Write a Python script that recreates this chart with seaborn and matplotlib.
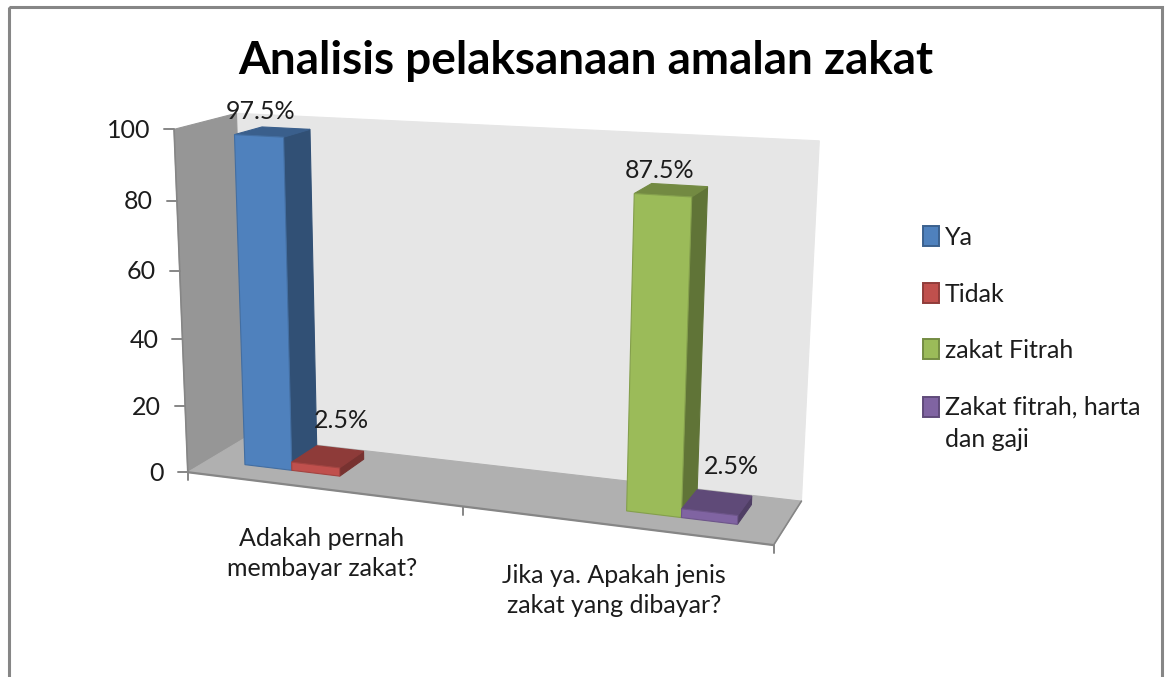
import numpy as np
import pandas as pd
import seaborn as sns
import matplotlib.pyplot as plt
import matplotlib.transforms as mtransforms
from matplotlib.colors import to_rgb
from matplotlib.patches import Polygon, Rectangle

# chart data
questions = ['Adakah pernah\nmembayar zakat?', 'Jika ya. Apakah jenis\nzakat yang dibayar?']
answers = ['Ya', 'Tidak', 'zakat Fitrah', 'Zakat fitrah, harta\ndan gaji']
answer_question = [0, 0, 1, 1]
percent = [97.5, 2.5, 87.5, 2.5]
colors = ['#4f81bd', '#c0504d', '#9bbb59', '#8064a2']
y_ticks = [0, 20, 40, 60, 80, 100]

# camera calibration: (category pos, depth, value) -> picture pixel
calib_3d = [(0, 0, 0), (0, 1, 0), (2, 1, 0), (2, 0, 0), (0, 0, 100), (0, 1, 100), (2, 1, 100),
            (1, 0, 0), (0, 0, 80), (0, 0, 60), (0, 0, 40), (0, 0, 20)]
calib_px = [(190, 470), (243, 440), (802, 498), (773, 548), (172, 130), (240, 113), (819, 141),
            (464, 507), (175, 200), (179, 271), (183, 339), (187, 405)]

rows = []
for (u, d, v), (px, py) in zip(calib_3d, calib_px):
    X = [u, d, v / 100, 1]
    rows.append(X + [0, 0, 0, 0] + [-px / 1000 * c for c in X])
    rows.append([0, 0, 0, 0] + X + [-py / 1000 * c for c in X])
cam = np.linalg.svd(np.array(rows))[2][-1].reshape(3, 4)


def project(u, d, v):
    u, d, v = np.broadcast_arrays(u, d, v)
    X = np.stack([u, d, v / 100, np.ones_like(u, dtype=float)], axis=-1)
    p = X @ cam.T
    return p[..., :2] / p[..., 2:] * 1000


class BarFace(mtransforms.Transform):
    # puts a seaborn bar (category x, value) on the front plane of the 3D box
    input_dims = 2
    output_dims = 2

    def __init__(self, bar_depth):
        super().__init__()
        self.bar_depth = bar_depth

    def transform_non_affine(self, values):
        values = np.asarray(values, dtype=float)
        return project(values[:, 0] + 0.5, self.bar_depth, values[:, 1])


sns.set_theme(style='white')
plt.rcParams['font.family'] = ['Lato', 'DejaVu Sans']
text_col = '#1c1c1c'
line_col = '#868686'

df = pd.DataFrame({'question': [questions[i] for i in answer_question],
                   'answer': answers,
                   'percent': percent})

fig = plt.figure(figsize=(11.65, 6.77), dpi=100, facecolor='white')
ax = fig.add_axes([0, 0, 1, 1])
sns.barplot(data=df, x='question', y='percent', hue='answer', order=questions, hue_order=answers,
            palette=colors, saturation=1, width=0.714, ax=ax)
# seaborn leaves empty bars for the answers a question does not have
for b in list(ax.patches):
    if not b.get_height() > 0:
        b.remove()
bars = sorted(ax.patches, key=lambda b: b.get_x())
ax.set_xlim(0, 1165)
ax.set_ylim(677, 0)
ax.set_axis_off()

ax.add_patch(Rectangle((9, 7), 1153, 720, fill=False, edgecolor=line_col, lw=2.2, zorder=20))


def face(points, color, z, edge=None, lw=0.8):
    ax.add_patch(Polygon(points, closed=True, facecolor=color, edgecolor=edge if edge is not None else color, lw=lw, zorder=z))


# walls and floor
face(project([0, 2, 2, 0], 1, [0, 0, 100, 100]), '#e6e6e6', 1)
face(project(0, [0, 1, 1, 0], [0, 0, 100, 100]), '#969696', 1.1)
face(project([0, 2, 2, 0], [0, 0, 1, 1], 0), '#b0b0b0', 1.2)
ax.plot(*project([0, 2], 0, 0).T, color=line_col, lw=1.6, zorder=1.3)
ax.plot(*project(0, 0, [0, 100]).T, color=line_col, lw=1.2, zorder=1.3)
ax.plot(*project(2, [0, 1], 0).T, color=line_col, lw=1.2, zorder=1.3)

# ticks
for v in y_ticks:
    x0, y0 = project(0, 0, v)
    ax.plot([x0 - 10, x0], [y0, y0], color=line_col, lw=1.4, zorder=1.3)
    ax.text(x0 - 24, y0 + 1, str(v), ha='right', va='center', fontsize=18, color=text_col)
for u in [0, 1, 2]:
    x0, y0 = project(u, 0, 0)
    ax.plot([x0, x0], [y0, y0 + 8], color=line_col, lw=1.4, zorder=1.3)
for i, q in enumerate(questions):
    x0, y0 = project(i + 0.5, 0, 0)
    ax.text(x0, y0 + 65, q, ha='center', va='center', fontsize=18, color=text_col, linespacing=1.36)

# bars: front faces are the seaborn bars, side and top follow their size
d0, d1 = 0.33, 0.79
for i, bar in enumerate(bars):
    base = np.array(to_rgb(colors[i]))
    left = bar.get_x() + 0.5
    right = left + bar.get_width()
    val = bar.get_height()
    z = 3 + i
    bar.set_transform(BarFace(d0) + ax.transData)
    bar.set_clip_on(False)
    bar.set_zorder(z + 0.5)
    bar.set_edgecolor(base * 0.85)
    bar.set_linewidth(0.8)
    face(project(right, [d0, d1, d1, d0], [0, 0, val, val]), base * 0.62, z)
    face(project([left, right, right, left], [d0, d0, d1, d1], val), base * 0.74, z + 0.1)
    xc, yc = project((left + right) / 2, (d0 + d1) / 2, val)
    dx, dy = (14, -36) if val < 10 else (-12, -20)
    ax.text(xc + dx, yc + dy, f'{val}%', ha='center', va='center', fontsize=18, color=text_col, zorder=12)

ax.text(586, 61, 'Analisis pelaksanaan amalan zakat', ha='center', va='center',
        fontsize=33, fontweight='bold', color='black')

sns.move_legend(ax, 'upper left', bbox_to_anchor=(900.5, 203.5), bbox_transform=ax.transData, title=None,
                frameon=False, fontsize=18, labelspacing=1.34, handlelength=0.64, handleheight=0.85,
                handletextpad=0.24, alignment='left')
handles = ax.get_legend().legend_handles
for h, c in zip(handles, colors):
    h.set_edgecolor(np.array(to_rgb(c)) * 0.75)
    h.set_linewidth(1.4)
# two-line label: square sits on its first line
handles[-1].set_y(handles[-1].get_y() + 12)
for t in ax.get_legend().get_texts():
    t.set_color(text_col)
    t.set_linespacing(1.48)

fig.savefig('out.png', dpi=100)
